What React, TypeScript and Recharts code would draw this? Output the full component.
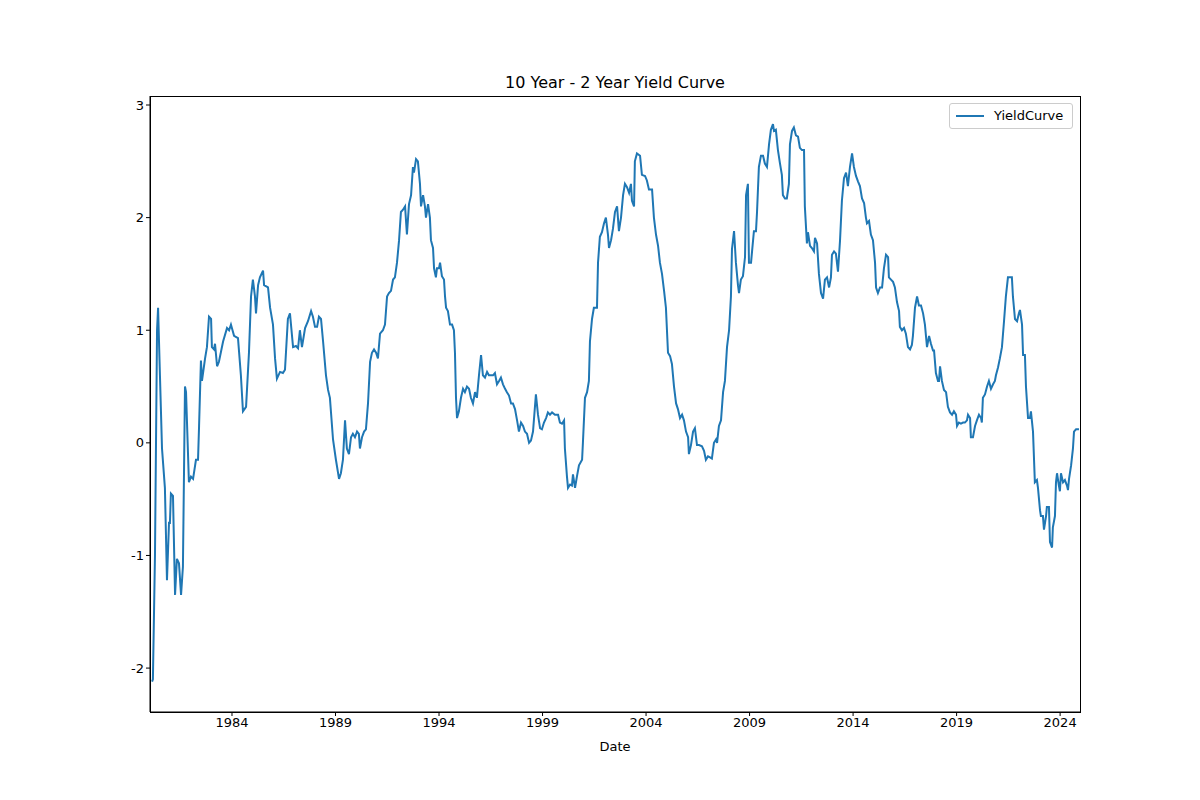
import { LineChart, Line, XAxis, YAxis } from "recharts"

// decimal year of each reading, and the 10y-2y spread (percentage points)
const dates = [
  1980.14, 1980.18, 1980.28, 1980.38, 1980.43, 1980.52, 1980.62, 1980.76, 1980.86, 1980.96, 1981.0, 1981.05, 1981.15, 1981.25, 1981.34, 1981.44, 1981.54, 1981.63, 1981.73, 1981.78, 1981.92, 1982.02, 1982.12, 1982.26, 1982.36, 1982.41, 1982.5, 1982.55, 1982.7, 1982.79, 1982.89, 1982.99, 1983.03, 1983.13, 1983.18, 1983.28, 1983.37, 1983.57, 1983.76, 1983.86, 1983.95,
  1984.1, 1984.29, 1984.43, 1984.53, 1984.68, 1984.82, 1984.92, 1985.01, 1985.11, 1985.16, 1985.26, 1985.35, 1985.5, 1985.55, 1985.74, 1985.84, 1985.98, 1986.08, 1986.17, 1986.32, 1986.46, 1986.56, 1986.7, 1986.8, 1986.95, 1987.09, 1987.19, 1987.28, 1987.38, 1987.53, 1987.67, 1987.82, 1987.91, 1988.01, 1988.11, 1988.2, 1988.3, 1988.4, 1988.54, 1988.64, 1988.73, 1988.88,
  1989.02, 1989.17, 1989.26, 1989.36, 1989.46, 1989.55, 1989.65, 1989.75, 1989.84, 1989.94, 1990.04, 1990.13, 1990.18, 1990.28, 1990.38, 1990.47, 1990.57, 1990.67, 1990.76, 1990.86, 1990.96, 1991.05, 1991.15, 1991.29, 1991.39, 1991.49, 1991.58, 1991.68, 1991.78, 1991.87, 1991.97, 1992.07, 1992.16, 1992.26, 1992.36, 1992.45, 1992.55, 1992.65, 1992.74, 1992.79, 1992.89, 1992.98, 1993.08, 1993.13, 1993.23, 1993.32, 1993.37, 1993.47, 1993.56, 1993.61, 1993.71, 1993.76, 1993.85, 1993.9,
  1994.0, 1994.05, 1994.14, 1994.24, 1994.29, 1994.34, 1994.43, 1994.53, 1994.63, 1994.72, 1994.77, 1994.82, 1994.87, 1994.96, 1995.06, 1995.16, 1995.25, 1995.35, 1995.45, 1995.54, 1995.64, 1995.74, 1995.83, 1995.93, 1996.03, 1996.12, 1996.22, 1996.32, 1996.41, 1996.51, 1996.61, 1996.7, 1996.8, 1996.9, 1996.99, 1997.09, 1997.19, 1997.28, 1997.38, 1997.48, 1997.57, 1997.67, 1997.77, 1997.86, 1997.96, 1998.06, 1998.15, 1998.25, 1998.35, 1998.44, 1998.54, 1998.68, 1998.78, 1998.88, 1998.97,
  1999.07, 1999.17, 1999.26, 1999.36, 1999.46, 1999.6, 1999.75, 1999.84, 1999.94, 2000.04, 2000.08, 2000.18, 2000.23, 2000.33, 2000.42, 2000.47, 2000.57, 2000.66, 2000.76, 2000.91, 2000.95, 2001.05, 2001.15, 2001.24, 2001.29, 2001.39, 2001.48, 2001.63, 2001.68, 2001.77, 2001.87, 2001.97, 2002.06, 2002.16, 2002.21, 2002.31, 2002.4, 2002.5, 2002.6, 2002.69, 2002.79, 2002.89, 2002.98, 2003.08, 2003.18, 2003.27, 2003.32, 2003.42, 2003.46, 2003.56, 2003.71, 2003.8, 2003.95,
  2004.04, 2004.14, 2004.29, 2004.38, 2004.48, 2004.58, 2004.67, 2004.77, 2004.87, 2004.96, 2005.06, 2005.16, 2005.25, 2005.35, 2005.45, 2005.54, 2005.64, 2005.74, 2005.83, 2005.93, 2006.03, 2006.07, 2006.17, 2006.27, 2006.36, 2006.46, 2006.56, 2006.7, 2006.8, 2006.89, 2006.99, 2007.09, 2007.18, 2007.28, 2007.38, 2007.43, 2007.52, 2007.62, 2007.72, 2007.81, 2007.91, 2008.01, 2008.1, 2008.15, 2008.25, 2008.34, 2008.44, 2008.49, 2008.58, 2008.68, 2008.78, 2008.83, 2008.92, 2008.97,
  2009.07, 2009.12, 2009.21, 2009.31, 2009.36, 2009.45, 2009.55, 2009.65, 2009.74, 2009.84, 2009.94, 2010.03, 2010.13, 2010.18, 2010.27, 2010.37, 2010.47, 2010.56, 2010.61, 2010.71, 2010.8, 2010.9, 2010.95, 2011.05, 2011.14, 2011.24, 2011.34, 2011.43, 2011.53, 2011.63, 2011.67, 2011.77, 2011.82, 2011.92, 2012.01, 2012.11, 2012.16, 2012.26, 2012.35, 2012.45, 2012.55, 2012.64, 2012.74, 2012.84, 2012.93, 2012.98, 2013.08, 2013.17, 2013.27, 2013.37, 2013.46, 2013.56, 2013.66, 2013.75, 2013.85, 2013.95,
  2014.04, 2014.14, 2014.24, 2014.33, 2014.43, 2014.53, 2014.62, 2014.67, 2014.77, 2014.86, 2014.96, 2015.06, 2015.11, 2015.2, 2015.3, 2015.4, 2015.49, 2015.59, 2015.69, 2015.73, 2015.83, 2015.93, 2016.02, 2016.12, 2016.22, 2016.26, 2016.36, 2016.46, 2016.55, 2016.65, 2016.75, 2016.84, 2016.89, 2016.99, 2017.09, 2017.18, 2017.28, 2017.38, 2017.47, 2017.52, 2017.57, 2017.67, 2017.76, 2017.86, 2017.91, 2018.0, 2018.1, 2018.15, 2018.2, 2018.29, 2018.39, 2018.49, 2018.58, 2018.68, 2018.78, 2018.87, 2018.97,
  2019.02, 2019.11, 2019.21, 2019.31, 2019.4, 2019.5, 2019.55, 2019.65, 2019.69, 2019.79, 2019.89, 2019.98, 2020.08, 2020.18, 2020.22, 2020.27, 2020.37, 2020.47, 2020.56, 2020.66, 2020.76, 2020.85, 2020.9, 2021.0, 2021.09, 2021.19, 2021.29, 2021.38, 2021.48, 2021.58, 2021.67, 2021.72, 2021.82, 2021.92, 2022.01, 2022.06, 2022.16, 2022.21, 2022.3, 2022.35, 2022.45, 2022.54, 2022.59, 2022.69, 2022.74, 2022.78, 2022.88, 2022.93, 2023.03, 2023.07, 2023.17, 2023.22, 2023.32, 2023.36, 2023.46, 2023.51, 2023.61, 2023.65, 2023.75, 2023.8, 2023.85, 2023.94, 2023.99, 2024.04, 2024.14, 2024.23, 2024.33, 2024.38, 2024.43, 2024.53, 2024.62, 2024.67, 2024.77, 2024.91,
]

const yieldCurve = [
  -2.12, -2.1, -1.0, 1.0, 1.2, 0.6, -0.05, -0.4, -1.22, -0.7, -0.72, -0.45, -0.47, -1.35, -1.03, -1.07, -1.35, -1.1, 0.5, 0.45, -0.35, -0.3, -0.32, -0.15, -0.15, 0.15, 0.73, 0.55, 0.75, 0.85, 1.12, 1.1, 0.85, 0.83, 0.88, 0.68, 0.72, 0.9, 1.02, 1.0, 1.05,
  0.95, 0.93, 0.6, 0.28, 0.32, 0.8, 1.3, 1.45, 1.3, 1.15, 1.4, 1.47, 1.53, 1.4, 1.38, 1.2, 1.05, 0.75, 0.57, 0.63, 0.62, 0.65, 1.1, 1.15, 0.85, 0.86, 0.84, 1.0, 0.85, 1.02, 1.08, 1.17, 1.12, 1.03, 1.03, 1.12, 1.1, 0.9, 0.6, 0.47, 0.4, 0.03,
  -0.15, -0.32, -0.27, -0.15, 0.2, -0.05, -0.1, 0.05, 0.08, 0.05, 0.1, 0.08, -0.05, 0.05, 0.1, 0.12, 0.35, 0.72, 0.8, 0.83, 0.8, 0.75, 0.97, 1.0, 1.05, 1.3, 1.33, 1.35, 1.45, 1.47, 1.6, 1.8, 2.05, 2.07, 2.1, 1.85, 2.12, 2.2, 2.45, 2.4, 2.52, 2.5, 2.3, 2.1, 2.2, 2.1, 2.0, 2.12, 2.0, 1.8, 1.73, 1.55, 1.47, 1.55,
  1.55, 1.6, 1.48, 1.45, 1.3, 1.2, 1.17, 1.05, 1.05, 1.0, 0.8, 0.4, 0.22, 0.28, 0.4, 0.48, 0.45, 0.5, 0.48, 0.4, 0.35, 0.45, 0.4, 0.6, 0.78, 0.6, 0.58, 0.63, 0.6, 0.6, 0.6, 0.62, 0.52, 0.55, 0.58, 0.52, 0.48, 0.45, 0.42, 0.35, 0.35, 0.3, 0.2, 0.1, 0.18, 0.15, 0.1, 0.08, 0.0, 0.02, 0.1, 0.43, 0.25, 0.13, 0.12,
  0.18, 0.22, 0.27, 0.25, 0.27, 0.25, 0.25, 0.18, 0.17, 0.2, -0.05, -0.3, -0.4, -0.37, -0.38, -0.28, -0.4, -0.3, -0.2, -0.15, 0.0, 0.4, 0.45, 0.55, 0.9, 1.1, 1.2, 1.2, 1.6, 1.83, 1.87, 1.95, 2.0, 1.85, 1.73, 1.8, 1.9, 2.05, 2.1, 1.88, 2.0, 2.2, 2.3, 2.27, 2.22, 2.3, 2.15, 2.1, 2.5, 2.57, 2.55, 2.38, 2.37,
  2.33, 2.25, 2.25, 2.0, 1.85, 1.75, 1.6, 1.5, 1.35, 1.2, 0.8, 0.77, 0.7, 0.5, 0.35, 0.3, 0.22, 0.25, 0.2, 0.1, 0.05, -0.1, -0.02, 0.1, 0.13, -0.02, -0.02, -0.03, -0.07, -0.15, -0.12, -0.13, -0.14, 0.0, 0.03, 0.0, 0.15, 0.2, 0.45, 0.55, 0.85, 1.0, 1.3, 1.72, 1.88, 1.6, 1.4, 1.33, 1.45, 1.48, 1.65, 2.2, 2.3, 1.6,
  1.6, 1.7, 1.88, 1.88, 2.05, 2.45, 2.55, 2.55, 2.48, 2.45, 2.65, 2.78, 2.83, 2.77, 2.78, 2.6, 2.48, 2.38, 2.2, 2.17, 2.17, 2.3, 2.65, 2.77, 2.8, 2.73, 2.72, 2.62, 2.6, 2.6, 2.1, 1.77, 1.87, 1.75, 1.73, 1.7, 1.82, 1.77, 1.5, 1.33, 1.28, 1.45, 1.47, 1.38, 1.47, 1.67, 1.7, 1.68, 1.52, 1.8, 2.15, 2.35, 2.4, 2.28, 2.45, 2.57,
  2.45, 2.37, 2.32, 2.28, 2.17, 2.13, 2.0, 1.95, 1.97, 1.85, 1.8, 1.6, 1.38, 1.33, 1.38, 1.38, 1.55, 1.67, 1.65, 1.47, 1.45, 1.43, 1.38, 1.25, 1.17, 1.03, 1.0, 1.02, 0.97, 0.85, 0.83, 0.87, 0.95, 1.2, 1.3, 1.22, 1.22, 1.15, 1.05, 0.95, 0.85, 0.95, 0.88, 0.82, 0.82, 0.62, 0.55, 0.55, 0.68, 0.55, 0.47, 0.45, 0.32, 0.27, 0.25, 0.28, 0.25,
  0.15, 0.18, 0.17, 0.18, 0.18, 0.2, 0.25, 0.22, 0.05, 0.05, 0.15, 0.2, 0.25, 0.22, 0.18, 0.4, 0.43, 0.5, 0.55, 0.48, 0.52, 0.55, 0.6, 0.67, 0.75, 0.85, 1.08, 1.3, 1.47, 1.47, 1.47, 1.3, 1.1, 1.08, 1.15, 1.18, 1.05, 0.78, 0.78, 0.5, 0.22, 0.22, 0.28, 0.1, -0.15, -0.35, -0.33, -0.4, -0.6, -0.65, -0.65, -0.77, -0.65, -0.57, -0.57, -0.88, -0.93, -0.75, -0.65, -0.35, -0.27, -0.38, -0.43, -0.27, -0.35, -0.33, -0.38, -0.42, -0.32, -0.2, -0.05, 0.1, 0.12, 0.12,
]

const xTicks = [1984, 1989, 1994, 1999, 2004, 2009, 2014, 2019, 2024]
const yTicks = [-2, -1, 0, 1, 2, 3]

const data = dates.map((d, i) => ({ date: d, YieldCurve: yieldCurve[i] }))

const font = "'DejaVu Sans', sans-serif"
const blue = "#1f77b4"

export default function App() {
  return (
    <div style={{ position: "absolute", left: 0, top: 0, width: 1200, height: 800, background: "#fff", fontFamily: font }}>
      <div style={{ position: "absolute", top: 73, width: 1200, left: 15, textAlign: "center", fontSize: 16 }}>
        10 Year - 2 Year Yield Curve
      </div>
      <LineChart width={1200} height={800} data={data} margin={{ top: 96, right: 120, bottom: 58, left: 100 }}>
        <XAxis
          dataKey="date"
          type="number"
          domain={[1980.04, 2024.96]}
          ticks={xTicks}
          allowDataOverflow
          stroke="#000"
          tick={{ fill: "#000", fontSize: 13, fontFamily: font }}
          tickSize={4}
          height={30}
        />
        <YAxis
          type="number"
          domain={[-2.39, 3.08]}
          ticks={yTicks}
          allowDataOverflow
          stroke="#000"
          tick={{ fill: "#000", fontSize: 13, fontFamily: font }}
          tickSize={4}
          width={50}
        />
        <Line type="linear" dataKey="YieldCurve" stroke={blue} strokeWidth={2} dot={false} isAnimationActive={false} />
      </LineChart>
      <div style={{ position: "absolute", left: 150, top: 96, width: 929, height: 615, border: "1px solid #000", pointerEvents: "none" }} />
      <div style={{ position: "absolute", top: 739, left: 15, width: 1200, textAlign: "center", fontSize: 13 }}>Date</div>
      <div style={{ position: "absolute", left: 949, top: 103, width: 122, height: 24, border: "1px solid #ccc", borderRadius: 3, background: "#fff", fontSize: 13 }}>
        <div style={{ position: "absolute", left: 6, top: 11, width: 28, height: 2, background: blue }} />
        <div style={{ position: "absolute", left: 44, top: 4 }}>YieldCurve</div>
      </div>
    </div>
  )
}
